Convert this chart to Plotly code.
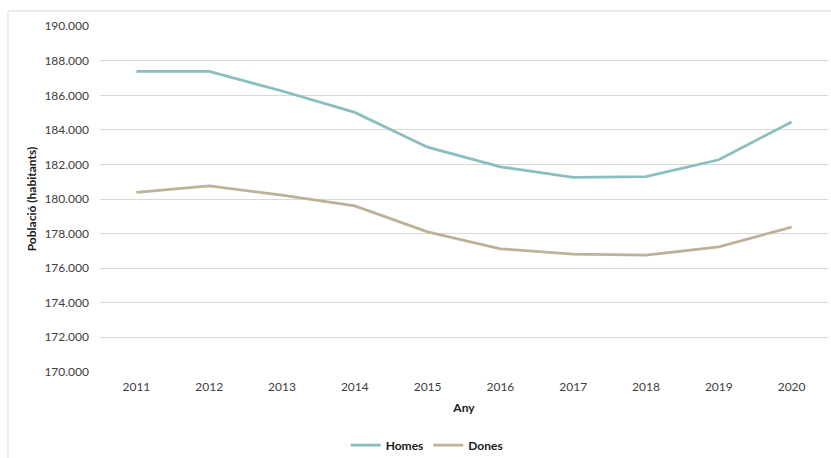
import plotly.graph_objects as go

# Població per sexe, 2011-2020
years = ["2011", "2012", "2013", "2014", "2015", "2016", "2017", "2018", "2019", "2020"]
homes = [187380, 187380, 186250, 185010, 183000, 181860, 181250, 181300, 182270, 184460]
dones = [180380, 180760, 180220, 179600, 178100, 177120, 176810, 176750, 177230, 178370]

y_ticks = list(range(170000, 190001, 2000))

TEAL = "#8BBEC0"
TAN = "#BDB197"
GRID = "#D9D9D9"
FONT = "Lato, 'Open Sans', sans-serif"

fig = go.Figure()
fig.add_trace(go.Scatter(x=years, y=homes, name="Homes", mode="lines",
                         line=dict(color=TEAL, width=2.75)))
fig.add_trace(go.Scatter(x=years, y=dones, name="Dones", mode="lines",
                         line=dict(color=TAN, width=2.75)))

fig.update_layout(
    width=831, height=458, autosize=False,
    margin=dict(l=100, r=3, t=26, b=86, autoexpand=False),
    paper_bgcolor="white", plot_bgcolor="white",
    separators=",.",
    font=dict(family=FONT, size=12, color="#404040"),
    showlegend=True,
    legend=dict(orientation="h", xref="container", yref="container",
                x=0.514, xanchor="center", y=0.028, yanchor="middle",
                font=dict(family=FONT, size=12, color="#1a1a1a", weight="bold"),
                bgcolor="rgba(0,0,0,0)", itemwidth=30, tracegroupgap=0),
    shapes=[dict(type="rect", xref="paper", yref="paper",
                 x0=-0.1264, x1=1.2, y0=-0.5, y1=1.0434,
                 line=dict(color=GRID, width=1), fillcolor="rgba(0,0,0,0)", layer="below")],
)

fig.update_xaxes(type="category", range=[-0.5, 9.5], showgrid=False, zeroline=False,
                 showline=False, ticks="", ticklabelstandoff=6,
                 tickfont=dict(family=FONT, size=12, color="#404040"),
                 title=dict(text="Any", standoff=10,
                            font=dict(family=FONT, size=12, color="#1a1a1a", weight="bold")))
fig.update_yaxes(range=[169990, 190010], tickvals=y_ticks, tickformat=",.0f",
                 showgrid=True, gridcolor=GRID, gridwidth=1, zeroline=False,
                 showline=False, ticks="", ticklabelstandoff=10,
                 tickfont=dict(family=FONT, size=12, color="#404040"),
                 title=dict(text="Població (habitants)", standoff=5,
                            font=dict(family=FONT, size=12, color="#1a1a1a", weight="bold")))

fig.write_html("out.html")
